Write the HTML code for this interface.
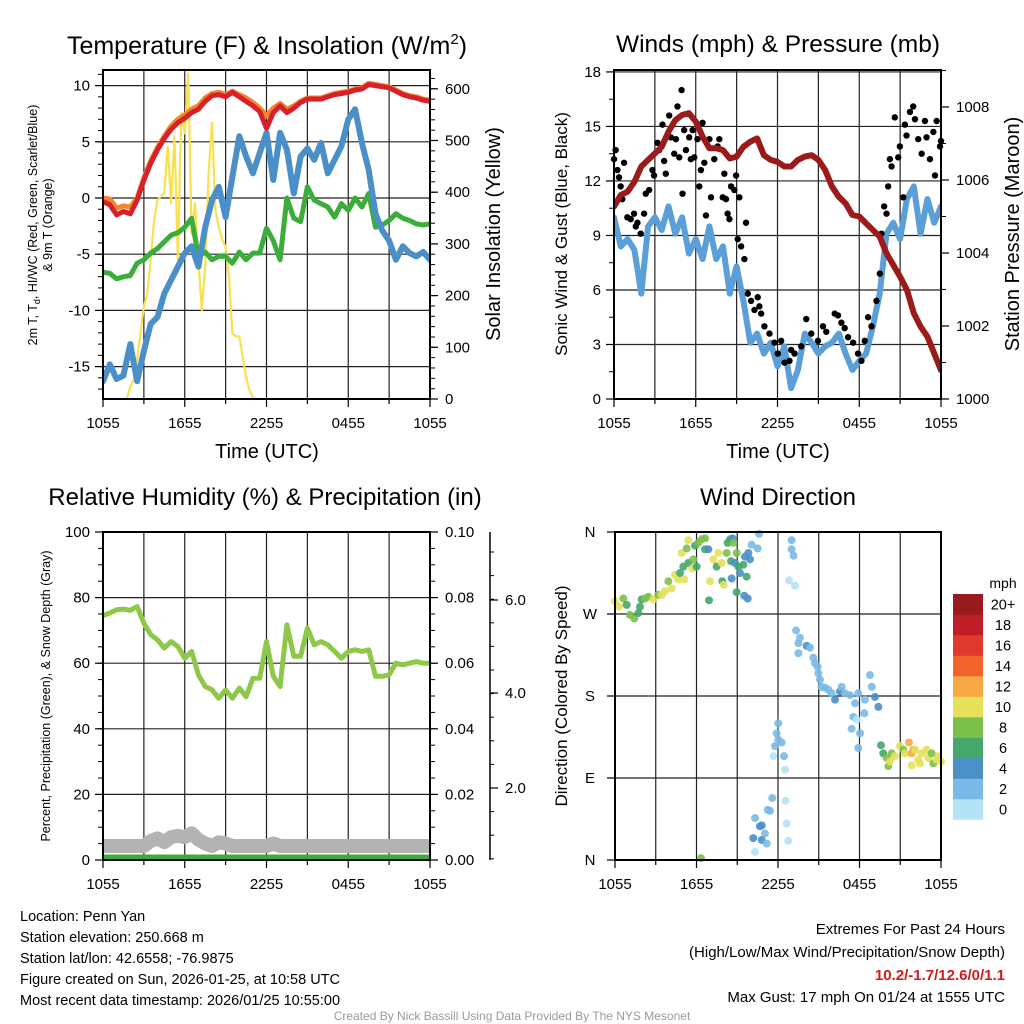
<!DOCTYPE html>
<html><head><meta charset="utf-8"><style>
html,body{margin:0;padding:0;background:#fff}
svg{display:block}
text{font-family:"Liberation Sans",sans-serif;fill:#000}
</style></head><body>
<svg id="chart" width="1024" height="1024" viewBox="0 0 1024 1024" xmlns="http://www.w3.org/2000/svg">
<rect x="0" y="0" width="1024" height="1024" fill="#fff"/>
<defs>
<clipPath id="c1"><rect x="103" y="70" width="327" height="329"/></clipPath>
<clipPath id="c2"><rect x="614" y="70" width="327" height="329"/></clipPath>
<clipPath id="c3"><rect x="103" y="532" width="327" height="328"/></clipPath>
</defs>
<g id="g1"></g>
<g id="g2"></g>
<g id="g3"></g>
<g id="g4"></g>

<text x="267" y="54" font-size="25" text-anchor="middle">Temperature (F) &amp; Insolation (W/m<tspan font-size="15" dy="-10">2</tspan><tspan dy="10">)</tspan></text>
<text x="778" y="52" font-size="24.5" text-anchor="middle">Winds (mph) &amp; Pressure (mb)</text>
<text x="265" y="505" font-size="24" text-anchor="middle">Relative Humidity (%) &amp; Precipitation (in)</text>
<text x="778" y="505" font-size="24" text-anchor="middle">Wind Direction</text>

<text x="267" y="458" font-size="20" text-anchor="middle">Time (UTC)</text>
<text x="778" y="458" font-size="20" text-anchor="middle">Time (UTC)</text>

<text transform="translate(37,225) rotate(-90)" font-size="12.5" text-anchor="middle">2m T, T<tspan font-size="9" dy="3">d</tspan><tspan dy="-3">, HI/WC (Red, Green, Scarlet/Blue)</tspan></text>
<text transform="translate(52,225) rotate(-90)" font-size="12.5" text-anchor="middle">&amp; 9m T (Orange)</text>
<text transform="translate(500,234) rotate(-90)" font-size="20" text-anchor="middle">Solar Insolation (Yellow)</text>
<text transform="translate(567,234) rotate(-90)" font-size="17" text-anchor="middle">Sonic Wind &amp; Gust (Blue, Black)</text>
<text transform="translate(1019,234) rotate(-90)" font-size="20" text-anchor="middle">Station Pressure (Maroon)</text>
<text transform="translate(50,696) rotate(-90)" font-size="12.5" text-anchor="middle">Percent, Precipitation (Green), &amp; Snow Depth (Gray)</text>
<text transform="translate(567,696) rotate(-90)" font-size="17" text-anchor="middle">Direction (Colored By Speed)</text>

<g font-size="14.5">
<text x="20" y="921">Location: Penn Yan</text>
<text x="20" y="942">Station elevation: 250.668 m</text>
<text x="20" y="963">Station lat/lon: 42.6558; -76.9875</text>
<text x="20" y="984">Figure created on Sun, 2026-01-25, at 10:58 UTC</text>
<text x="20" y="1005">Most recent data timestamp: 2026/01/25 10:55:00</text>
</g>
<g font-size="15" text-anchor="end">
<text x="1005" y="934">Extremes For Past 24 Hours</text>
<text x="1005" y="957">(High/Low/Max Wind/Precipitation/Snow Depth)</text>
<text x="1005" y="980" fill="#d01c1c" style="fill:#d01c1c;font-weight:bold">10.2/-1.7/12.6/0/1.1</text>
<text x="1005" y="1002">Max Gust: 17 mph On 01/24 at 1555 UTC</text>
</g>
<text x="512" y="1020" font-size="12" text-anchor="middle" style="fill:#999">Created By Nick Bassill Using Data Provided By The NYS Mesonet</text>
</svg>
<script>
// ---------- data (half-hourly, hours since 1055 UTC) ----------
const xTickLabels = ["1055","1655","2255","0455","1055"];
const tempTicks = [10,5,0,-5,-10,-15];
const solarTicks = [600,500,400,300,200,100,0];
const windTicks = [0,3,6,9,12,15,18];
const pressTicks = [1000,1002,1004,1006,1008];
const rhTicks = [0,20,40,60,80,100];
const precipTicks = [0.00,0.02,0.04,0.06,0.08,0.10];
const snowTickLabels = ["6.0","4.0","2.0"];
const dirTickLabels = ["N","W","S","E","N"];
const dirTickValues = [360,270,180,90,0];
const speedBins = ["0","2","4","6","8","10","12","14","16","18","20+"];
const speedColors = ["#b5e3f6","#7bb9e6","#4a8fc6","#45a76c","#7cc04c","#e6e05a","#f7a844","#f0632c","#e0392e","#bf1e26","#981b1e"];

const tempRed = [-0.33,-0.6,-1.5,-1.2,-1.4,-0.2,1.6,3.1,4.3,5.3,6.1,6.7,7.1,7.6,7.9,8.6,9.1,9.2,9.0,9.4,9.0,8.6,8.2,7.7,6.2,7.6,8.2,7.6,8.0,8.5,8.8,8.8,8.8,9.0,9.2,9.3,9.4,9.6,9.7,10.1,10.0,9.9,9.8,9.5,9.2,9.0,8.9,8.7,8.6];
const tempOrange = [0.0,-0.1,-0.9,-0.7,-0.8,0.0,1.8,3.3,4.5,5.5,6.4,7.0,7.4,7.9,8.2,8.9,9.3,9.4,9.2,9.5,9.2,8.9,8.5,8.0,7.3,8.0,8.4,7.9,8.2,8.6,8.9,8.9,8.9,9.1,9.3,9.4,9.5,9.7,9.8,10.2,10.1,10.0,9.9,9.6,9.3,9.1,9.0,8.8,8.7];
const tempGreen = [-6.6,-6.7,-7.2,-7.0,-6.9,-5.8,-5.5,-4.9,-4.5,-3.9,-3.3,-3.1,-2.6,-1.8,-5.2,-4.8,-5.5,-5.2,-5.2,-5.8,-4.8,-5.5,-4.9,-4.9,-2.7,-3.8,-5.5,0.0,-1.8,-2.1,1.0,-0.2,-0.5,-0.8,-1.7,-0.5,-1.1,0.0,-0.8,0.4,-2.6,-2.4,-2.0,-1.4,-1.8,-2.0,-2.3,-2.4,-2.3];
const tempBlue = [-16.3,-14.8,-16.1,-15.8,-13.0,-16.3,-13.6,-11.2,-10.6,-8.5,-7.3,-6.1,-4.9,-4.3,-6.1,-2.6,-0.2,1.0,-1.7,1.9,5.5,3.7,2.2,4.0,5.8,1.6,5.8,4.3,0.4,3.7,4.4,3.4,4.9,2.2,3.4,4.6,7.0,7.9,4.9,2.5,-1.4,-2.9,-3.8,-5.5,-4.3,-4.9,-5.2,-4.8,-5.5];
// solar: quarter-hourly from hour 0
const solar = [0,0,0,0,0,0,0,0,24,37,75,127,179,204,269,346,385,392,398,488,379,508,269,553,514,630,320,379,269,172,256,437,534,366,333,308,295,237,127,121,121,82,43,17,3,0,0,0,0,0,0,0,0,0,0,0,0,0,0,0,0,0,0,0,0,0,0,0,0,0,0,0,0,0,0,0,0,0,0,0,0,0,0,0,0,0,0,0,0,0,0,0,0,0,0,0,0];

const pressure = [1005.27,1005.59,1005.68,1005.95,1006.37,1006.55,1006.73,1006.91,1007.32,1007.64,1007.78,1007.83,1007.60,1007.19,1006.87,1006.87,1006.82,1006.59,1006.64,1006.91,1007.05,1007.14,1006.68,1006.55,1006.50,1006.37,1006.37,1006.55,1006.64,1006.68,1006.55,1006.27,1005.82,1005.54,1005.36,1005.04,1005.00,1004.81,1004.63,1004.45,1003.99,1003.67,1003.35,1002.99,1002.35,1001.98,1001.71,1001.25,1000.79];
const sonicWind = [10.0,8.4,8.8,8.2,5.8,9.5,10.0,9.3,10.6,9.1,10.0,8.0,8.8,7.7,9.5,7.7,8.4,5.8,7.3,5.4,3.1,3.6,2.5,3.1,1.8,2.9,0.6,1.6,3.6,3.1,2.5,2.9,3.1,3.6,2.5,1.6,2.1,2.5,4.0,5.8,9.1,9.7,8.8,11.0,11.7,9.1,11.0,9.7,10.6];
const gustHour = [0,0.12,0.25,0.37,0.49,0.61,0.74,0.98,1.23,1.47,1.60,1.72,1.96,2.21,2.33,2.58,2.82,2.94,3.19,3.31,3.56,3.68,3.80,4.05,4.17,4.42,4.54,4.66,4.79,4.96,5.03,5.15,5.28,5.52,5.64,5.77,5.89,6.13,6.26,6.38,6.50,6.63,6.75,7.00,7.12,7.36,7.61,7.73,7.98,8.10,8.22,8.34,8.47,8.59,8.83,8.96,9.08,9.20,9.33,9.57,9.69,9.82,10.06,10.31,10.55,10.67,10.80,11.04,11.41,11.78,12.02,12.27,12.52,12.88,13.0,13.25,13.74,14.11,14.48,14.97,15.34,15.58,16.20,16.44,16.69,16.93,17.18,17.55,17.91,18.16,18.40,18.65,18.90,19.26,19.51,19.63,19.83,20.0,20.12,20.25,20.37,20.61,20.86,20.98,21.23,21.35,21.47,21.72,21.96,22.09,22.33,22.58,22.82,22.94,23.19,23.44,23.56,23.68,23.93,24.0];
const gustSpeed = [13.2,13.7,12.6,12.2,11.7,11.0,13.0,10.0,9.9,10.2,9.5,9.7,9.1,10.2,11.3,11.5,12.6,12.3,14.1,13.7,15.1,13.1,12.4,15.6,14.4,13.5,14.3,16.1,13.3,17.0,11.3,14.8,13.7,14.4,13.2,14.8,13.3,14.3,11.7,12.6,15.2,13.0,10.1,14.3,11.1,13.2,13.9,14.3,11.1,12.4,11.0,10.2,9.9,11.7,11.5,12.3,8.8,11.1,8.4,7.7,9.7,5.8,5.4,4.9,5.6,5.1,4.7,4.0,3.6,3.1,2.5,3.2,2.0,2.1,2.7,2.5,2.9,4.4,3.6,3.2,4.0,3.7,4.7,4.6,4.2,3.9,3.4,3.1,2.5,2.1,3.2,4.5,4.0,5.4,6.9,9.1,10.6,10.2,11.7,13.2,12.8,15.5,13.3,13.9,11.1,15.1,14.5,15.8,16.1,15.4,14.3,13.5,15.3,14.4,13.2,14.7,12.3,15.3,13.9,14.2];

const rh = [74.5,75.3,76.3,76.5,76.1,77.3,72.2,68.7,67.1,64.6,66.6,65.1,61.5,63.6,56.5,52.9,51.9,49.3,51.9,49.3,52.4,49.8,55.4,55.4,66.6,56.0,52.9,71.7,62.1,62.1,70.7,65.6,66.6,65.6,63.6,61.5,63.6,64.1,63.6,64.1,56.0,56.0,56.5,60.0,59.5,60.0,60.5,60.0,60.0];
const precip = [0,0,0,0,0,0,0,0,0,0,0,0,0,0,0,0,0,0,0,0,0,0,0,0,0,0,0,0,0,0,0,0,0,0,0,0,0,0,0,0,0,0,0,0,0,0,0,0,0];
const snowDepth = [1.1,1.1,1.1,1.1,1.1,1.1,1.1,1.5,1.7,1.4,1.8,1.9,1.8,2.1,1.6,1.3,1.1,1.4,1.3,1.1,1.1,1.1,1.1,1.1,1.1,1.3,1.1,1.1,1.1,1.1,1.1,1.1,1.1,1.1,1.1,1.1,1.1,1.1,1.1,1.1,1.1,1.1,1.1,1.1,1.1,1.1,1.1,1.1,1.1];

const dirHour = [0.00,0.29,0.61,0.86,1.10,1.42,1.72,1.84,1.96,2.21,2.45,2.82,3.19,3.44,3.68,3.93,4.17,4.42,4.66,4.79,5.10,5.03,5.40,5.69,5.77,6.01,4.91,5.28,5.40,5.89,6.13,6.38,6.63,6.63,6.87,6.99,6.92,7.24,7.48,7.61,7.85,7.90,8.00,8.22,8.29,8.47,8.66,8.71,8.54,8.83,8.59,8.96,9.08,9.20,9.45,9.57,9.82,9.94,9.69,8.96,9.52,9.77,10.06,10.50,10.60,13.00,13.00,13.15,12.81,13.25,
13.33,13.62,13.50,14.11,14.36,13.50,14.60,14.72,14.92,14.97,15.09,15.21,15.46,15.71,15.95,16.20,16.56,16.69,16.93,17.30,17.67,17.91,18.40,18.77,18.90,19.14,19.39,17.55,17.79,17.42,18.04,18.36,17.91,
19.58,19.75,20.0,20.12,20.37,20.61,20.98,21.23,21.35,21.64,21.84,21.96,22.09,21.84,22.33,22.45,22.58,22.94,23.07,23.31,23.44,23.68,24.0,23.80,20.25,
12.02,11.90,12.02,12.27,11.78,11.66,12.44,12.52,11.58,11.24,11.41,10.80,10.67,10.31,10.18,10.80,11.04,11.17,10.31,12.56,12.64,12.76,6.33];
const dirDeg = [284,278,287,280,269,265,271,278,286,287,289,286,291,291,295,306,298,313,308,315,308,322,326,320,330,322,337,342,351,345,348,352,353,341,341,306,285,330,322,337,326,306,302,337,348,352,353,348,328,326,309,337,322,315,324,333,337,330,311,294,290,287,346,342,358,351,341,334,307,301,
252,244,238,235,233,227,222,216,212,205,198,190,189,187,183,176,185,190,183,181,172,183,176,203,190,179,168,157,154,144,139,161,123,
126,117,112,103,117,114,125,121,117,129,117,121,121,104,110,106,117,121,112,117,106,110,108,114,108,
150,139,132,129,125,114,114,99,68,55,54,38,37,46,24,22,29,18,9,65,40,21,2];
const dirSpeed = [11,11,9,7,9,9,7,7,7,9,9,11,9,11,11,9,11,11,11,7,11,7,7,11,9,7,11,9,11,7,9,9,9,7,5,11,7,11,7,11,11,7,11,9,7,7,5,9,7,5,5,9,7,5,7,5,5,5,7,7,5,5,3,3,3,3,3,3,1,1,
3,3,3,5,3,3,3,3,3,3,3,3,3,3,3,5,5,3,3,3,3,3,3,3,3,5,5,3,1,3,3,3,3,
7,7,9,9,9,11,11,9,11,13,13,13,11,11,11,11,11,11,11,9,9,11,11,11,11,
3,3,3,3,3,1,3,1,3,3,3,5,5,3,5,5,3,3,1,1,1,1,9];

// ---------- helpers ----------
const NS = "http://www.w3.org/2000/svg";
function mk(tag, attrs, parent){const e=document.createElementNS(NS,tag);for(const k in attrs)e.setAttribute(k,attrs[k]);parent.appendChild(e);return e;}
function txt(parent, x, y, s, size, anchor){const t=mk("text",{x:x,y:y,"font-size":size,"text-anchor":anchor||"middle"},parent);t.textContent=s;return t;}
function pathFrom(xs, ys){let d="";for(let i=0;i<xs.length;i++){d+=(i?"L":"M")+xs[i].toFixed(1)+","+ys[i].toFixed(1);}return d;}
function halfHours(n){const a=[];for(let i=0;i<n;i++)a.push(i*0.5);return a;}

function timeAxis(g, x0, w, yb, yt){
  for(let k=0;k<=8;k++){
    const x=x0+k*w/8;
    const gl=mk("line",{x1:x,y1:yt,x2:x,y2:yb,stroke:"#222","stroke-width":1.2},g);
    
    
    const tk=mk("line",{x1:x,y1:yb,x2:x,y2:yb+(k%2?5:8),stroke:"#000","stroke-width":1.2},g);
    
    
  }
  xTickLabels.forEach((s,i)=>{
    const t=txt(g,x0+i*w/4,yb+29,s,15);
    
    
  });
}
function frame(g,x,y,w,h){
  const r=mk("rect",{x:x,y:y,width:w,height:h,fill:"none",stroke:"#000","stroke-width":2},g);
  
  
}
function hLines(g, vals, fy, x0, x1){
  vals.forEach(v=>{
    const l=mk("line",{x1:x0,y1:fy(v),x2:x1,y2:fy(v),stroke:"#222","stroke-width":1.2},g);
    
    
  });
}
function leftTicks(g, vals, labels, fy, x, minorStep, lo, hi){
  if(minorStep){for(let v=lo;v<=hi+1e-9;v+=minorStep){const m=mk("line",{x1:x-5,y1:fy(v),x2:x,y2:fy(v),stroke:"#000","stroke-width":1},g);}}
  vals.forEach((v,i)=>{
    const tk=mk("line",{x1:x-8,y1:fy(v),x2:x,y2:fy(v),stroke:"#000","stroke-width":1.2},g);
    
    
    const t=txt(g,x-13,fy(v)+5,labels[i],15,"end");
    
    
  });
}
function rightTicks(g, vals, labels, fy, x, minorStep, lo, hi){
  if(minorStep){for(let v=lo;v<=hi+1e-9;v+=minorStep){const m=mk("line",{x1:x,y1:fy(v),x2:x+5,y2:fy(v),stroke:"#000","stroke-width":1},g);}}
  vals.forEach((v,i)=>{
    const tk=mk("line",{x1:x,y1:fy(v),x2:x+8,y2:fy(v),stroke:"#000","stroke-width":1.2},g);
    
    
    const t=txt(g,x+15,fy(v)+5,labels[i],15,"start");
    
    
  });
}
function line(g, xs, ys, color, w, name, clip){
  const p=mk("path",{d:pathFrom(xs,ys),fill:"none",stroke:color,"stroke-width":w,"stroke-linejoin":"round","stroke-linecap":"round","clip-path":"url(#"+clip+")"},g);
  
  
}

// ---------- panel 1 ----------
(function(){
  const g=document.getElementById("g1");
  const X=h=>103+h*327/24, Y=v=>198-v*11.24, S=w=>399-w*0.517;
  hLines(g,tempTicks,Y,103,430);
  timeAxis(g,103,327,399,70);
  leftTicks(g,tempTicks,tempTicks.map(String),Y,103,1,-17,11);
  rightTicks(g,solarTicks,solarTicks.map(String),S,430,20,0,630);
  const hh=halfHours(tempRed.length);
  const qh=solar.map((_,i)=>i*0.25);
  line(g,qh.map(X),solar.map(S),"#f9e04f",2.2,"solar-insolation-line","c1");
  line(g,hh.map(X),tempGreen.map(Y),"#3cad3a",5,"heat-index-line","c1");
  line(g,hh.map(X),tempBlue.map(Y),"#4a8fc7",6,"dewpoint-line","c1");
  line(g,hh.map(X),tempOrange.map(Y),"#f5842d",5,"temp-9m-line","c1");
  line(g,hh.map(X),tempRed.map(Y),"#d7202a",5,"temp-2m-line","c1");
  frame(g,103,70,327,329);
})();

// ---------- panel 2 ----------
(function(){
  const g=document.getElementById("g2");
  const X=h=>614+h*327/24, Y=v=>399-v*18.17, P=p=>399-(p-1000)*36.5;
  hLines(g,windTicks,Y,614,941);
  timeAxis(g,614,327,399,70);
  leftTicks(g,windTicks,windTicks.map(String),Y,614,1.5,0,18);
  rightTicks(g,pressTicks,pressTicks.map(String),P,941,1,1000,1009);
  const hh=halfHours(sonicWind.length);
  line(g,hh.map(X),sonicWind.map(Y),"#5a9fd8",6,"sonic-wind-line","c2");
  gustHour.forEach((h,i)=>{
    const c=mk("circle",{cx:X(h),cy:Y(gustSpeed[i]),r:3.2,fill:"#000"},g);
    
    
  });
  line(g,hh.map(X),pressure.map(P),"#9b1a1a",6,"pressure-line","c2");
  frame(g,614,70,327,329);
})();

// ---------- panel 3 ----------
(function(){
  const g=document.getElementById("g3");
  const X=h=>103+h*327/24, Y=v=>860-v*3.28, PR=v=>860-v*3280, SN=v=>860-v*12.7;
  hLines(g,rhTicks,Y,103,430);
  timeAxis(g,103,327,860,532);
  leftTicks(g,rhTicks,rhTicks.map(String),Y,103,5,0,100);
  rightTicks(g,precipTicks,precipTicks.map(v=>v.toFixed(2)),PR,430,0.005,0,0.1);
  const ax=mk("line",{x1:490,y1:532,x2:490,y2:860,stroke:"#000","stroke-width":1.5},g);
  
  
  for(let k=0;k<14;k++){const yy=552+k*23.6;const m=mk("line",{x1:490,y1:yy,x2:494,y2:yy,stroke:"#000","stroke-width":1},g);}
  const snowTickY=[600,693,788];
  snowTickLabels.forEach((s,i)=>{
    const tk=mk("line",{x1:490,y1:snowTickY[i],x2:498,y2:snowTickY[i],stroke:"#000","stroke-width":1.2},g);
    
    
    const t=txt(g,505,snowTickY[i]+5,s,15,"start");
    
    
  });
  const hh=halfHours(rh.length);
  line(g,hh.map(X),snowDepth.map(SN),"#b3b3b3",14,"snow-depth-line","c3");
  line(g,hh.map(X),precip.map(PR),"#3cab3e",11,"precipitation-line","c3");
  line(g,hh.map(X),rh.map(Y),"#8dc84b",5,"relative-humidity-line","c3");
  frame(g,103,532,327,328);
})();

// ---------- panel 4 ----------
(function(){
  const g=document.getElementById("g4");
  const X=h=>615+h*326/24, Y=d=>860-d*328/360;
  hLines(g,dirTickValues,Y,615,941);
  timeAxis(g,615,326,860,532);
  dirTickValues.forEach((v,i)=>{
    const tk=mk("line",{x1:607,y1:Y(v),x2:615,y2:Y(v),stroke:"#000","stroke-width":1.2},g);
    
    
    const t=txt(g,590,Y(v)+5,dirTickLabels[i],15,"middle");
    
    
  });
  dirHour.forEach((h,i)=>{
    const b=Math.min(10,Math.floor(dirSpeed[i]/2));
    const c=mk("circle",{cx:X(h),cy:Y(dirDeg[i]),r:4,fill:speedColors[b],"fill-opacity":0.9},g);
    
    
  });
  frame(g,615,532,326,328);
  const t0=txt(g,1003,588,"mph",14);
  
  
  speedBins.forEach((s,i)=>{
    const yy=594+(10-i)*20.5;
    const r=mk("rect",{x:953,y:yy,width:30,height:20.8,fill:speedColors[i]},g);
    
    
    const t=txt(g,1003,yy+15.5,s,14.5);
    
    
  });
})();
</script>
</body></html>
